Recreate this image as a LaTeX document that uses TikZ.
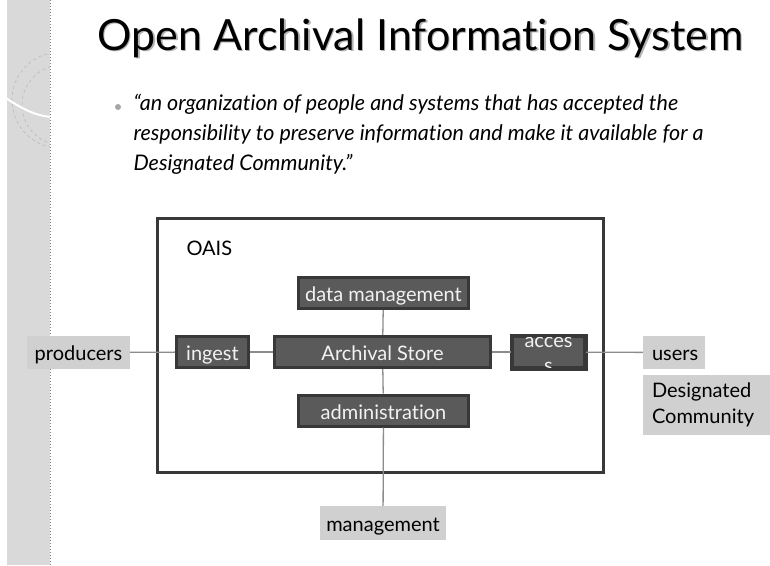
\documentclass[tikz,border=0pt]{standalone}
\usepackage{fontspec}
\setmainfont{Lato}[Ligatures={NoCommon}]
\definecolor{boxfill}{HTML}{5A5A5A}
\definecolor{boxedge}{HTML}{383838}
\definecolor{boxtext}{HTML}{F2F2F2}
\definecolor{lightfill}{HTML}{D0D0D0}
\definecolor{linkgray}{HTML}{8C8C8C}
\definecolor{stripe}{HTML}{D9D9D9}
\tikzset{
  darkbox/.style={draw=boxedge, fill=boxfill, line width=3pt, text=boxtext,
    font=\fontsize{20}{24}\selectfont, minimum height=31pt, inner sep=0pt,
    text height=17pt, text depth=0pt},
  lightbox/.style={fill=lightfill, text=black, font=\fontsize{20}{26}\selectfont,
    minimum height=33pt, inner sep=0pt},
  oneline/.style={text height=16pt, text depth=0pt},
  link/.style={draw=linkgray, line width=1.3pt}
}
\begin{document}
\begin{tikzpicture}[x=1pt,y=-1pt]
    \useasboundingbox (0,0) rectangle (770,565);
    % side stripe
    \fill [stripe] (7,0) rectangle (50,565);
    \begin{scope}
    \clip (7,0) rectangle (50,565);
    \draw [gray!55, dashed, line width=0.6pt] (60,100) circle (48);
    \draw [gray!55, dashed, line width=0.6pt] (62,105) circle (40);
    \draw [white, line width=2pt] (0,94) .. controls (20,108) and (35,116) .. (52,117);
    \end{scope}
    \draw [gray, dotted, line width=1pt] (50,0) -- (50,565);
    % title and quote
    \node [text=gray!60, font=\fontsize{43}{50}\selectfont] at (422,39.5) {Open Archival Information System};
    \node [font=\fontsize{43}{50}\selectfont] (title) at (420.5,38) {Open Archival Information System};
    \fill [gray!70] (118,107) circle (3);
    \node [anchor=north west, align=left, font=\fontsize{21.5}{30}\selectfont\itshape] (quote) at (130,91)
      {“an organization of people and systems that has accepted the\\
       responsibility to preserve information and make it available for a\\
       Designated Community.”};
    % OAIS frame
    \draw [boxedge, line width=3pt] (157,218) rectangle (603,472);
    \node [anchor=west, font=\fontsize{20}{24}\selectfont] (oais) at (183,248) {OAIS};
    % functional entities
    \node [darkbox, minimum width=170pt] (datamgmt) at (383.5,293) {data management};
    \node [darkbox, minimum width=72pt] (ingest) at (212.5,352) {ingest};
    \node [darkbox, minimum width=216pt] (store) at (382.5,352) {Archival Store};
    \node [darkbox, minimum width=72pt] (access) at (548.5,352) {};
    \begin{scope}
    \clip (511,336) rectangle (586,368);
    \node [text=boxtext, align=center, font=\fontsize{20}{25}\selectfont] at (548.5,355) {acces\\s};
    \end{scope}
    \draw [boxedge, line width=3pt] (access.north west) rectangle (access.south east);
    \node [darkbox, minimum width=170pt] (admin) at (383.5,410.5) {administration};
    % outside parties
    \node [lightbox, oneline, minimum width=103pt] (producers) at (78.5,352.5) {producers};
    \node [lightbox, oneline, minimum width=62pt, text width=44pt] (users) at (674,352.5) {users};
    \node [lightbox, minimum width=127pt, minimum height=60pt, text width=109pt, align=left] (community) at (706.5,405) {Designated\\Community};
    \node [lightbox, oneline, minimum width=126pt, minimum height=34pt] (management) at (383,523) {management};
    % links
    \draw [link] (producers) -- (ingest);
    \draw [link] (ingest) -- (store);
    \draw [link] (store) -- (access);
    \draw [link] (access) -- (users);
    \draw [link] (datamgmt) -- (store);
    \draw [link] (store) -- (admin);
    \draw [link] (admin) -- (management);
\end{tikzpicture}
\end{document}
